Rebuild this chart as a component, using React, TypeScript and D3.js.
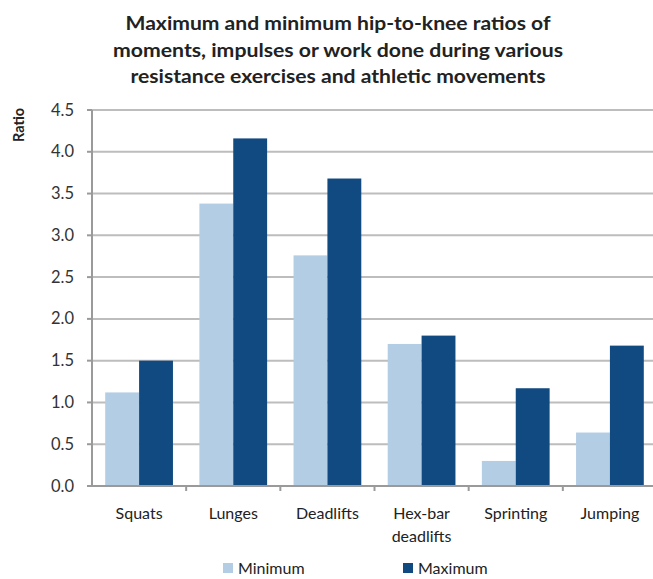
import React from "react";
import * as d3 from "d3";

// Exercise categories (second line of a label after "\n")
const categories = ["Squats", "Lunges", "Deadlifts", "Hex-bar\ndeadlifts", "Sprinting", "Jumping"];
const minimumValues = [1.12, 3.38, 2.76, 1.7, 0.3, 0.64];
const maximumValues = [1.5, 4.16, 3.68, 1.8, 1.17, 1.68];
const seriesNames = ["Minimum", "Maximum"];
const yTicks = [0, 0.5, 1, 1.5, 2, 2.5, 3, 3.5, 4, 4.5];
const titleLines = [
  "Maximum and minimum hip-to-knee ratios of",
  "moments, impulses or work done during various",
  "resistance exercises and athletic movements",
];
const titleWidths = [425, 450, 415];

const W = 653;
const H = 579;
const FONT = "Lato, 'Open Sans', sans-serif";
const COLORS = ["#b3cde5", "#114a80"];

export default function App() {
  const left = 92;
  const right = 657;
  const top = 110;
  const bottom = 486;

  const x = d3.scaleBand<string>().domain(categories).range([left, right]).paddingInner(0).paddingOuter(0);
  const y = d3.scaleLinear().domain([0, 4.5]).range([bottom, top]);
  const inner = d3.scaleBand<string>().domain(seriesNames).range([0, x.bandwidth()]).paddingOuter(0.39).paddingInner(0);

  const series = [minimumValues, maximumValues];

  return (
    <svg
      width={W}
      height={H}
      style={{ position: "absolute", left: 0, top: 0, background: "#fff" }}
      fontFamily={FONT}
    >
      <rect width={W} height={H} fill="#fff" />
      {/* Title */}
      {titleLines.map((t, i) => (
        <text
          key={i}
          x={338}
          y={30 + i * 26.5}
          textAnchor="middle"
          fontSize={19}
          fontWeight={700}
          fill="#222"
          textLength={titleWidths[i]}
          lengthAdjust="spacingAndGlyphs"
        >
          {t}
        </text>
      ))}

      {/* Y axis title */}
      <text
        transform={`translate(24,125) rotate(-90)`}
        textAnchor="middle"
        fontSize={14.5}
        fontWeight={700}
        fill="#222"
      >
        Ratio
      </text>

      {/* Gridlines and y ticks */}
      {yTicks.map((t) => (
        <g key={t}>
          <line x1={left} x2={W} y1={y(t)} y2={y(t)} stroke="#bdbdbd" strokeWidth={2} />
          <line x1={left - 5} x2={left} y1={y(t)} y2={y(t)} stroke="#9a9a9a" strokeWidth={2} />
          <text x={74} y={y(t) + 5.5} textAnchor="end" fontSize={16.5} fill="#333">
            {d3.format(".1f")(t)}
          </text>
        </g>
      ))}

      {/* Bars */}
      {categories.map((c, i) => (
        <g key={c}>
          {series.map((vals, s) => (
            <rect
              key={s}
              x={(x(c) as number) + (inner(seriesNames[s]) as number)}
              y={y(vals[i])}
              width={inner.bandwidth()}
              height={bottom - y(vals[i])}
              fill={COLORS[s]}
            />
          ))}
        </g>
      ))}

      {/* Axes lines */}
      <line x1={left} x2={left} y1={top} y2={bottom} stroke="#9a9a9a" strokeWidth={2} />
      <line x1={left} x2={W} y1={bottom} y2={bottom} stroke="#9a9a9a" strokeWidth={2} />
      {categories.map((c, i) => (
        <line
          key={"t" + i}
          x1={(x(c) as number) + x.bandwidth()}
          x2={(x(c) as number) + x.bandwidth()}
          y1={bottom}
          y2={bottom + 5}
          stroke="#9a9a9a"
          strokeWidth={2}
        />
      ))}

      {/* Category labels */}
      {categories.map((c) => {
        const cx = (x(c) as number) + x.bandwidth() / 2;
        return (
          <text key={"l" + c} textAnchor="middle" fontSize={16} fill="#222">
            {c.split("\n").map((part, j) => (
              <tspan key={j} x={cx} y={519 + j * 23}>
                {part}
              </tspan>
            ))}
          </text>
        );
      })}

      {/* Legend */}
      {seriesNames.map((n, s) => {
        const lx = s === 0 ? 223 : 403;
        return (
          <g key={n}>
            <rect x={lx} y={563} width={10} height={10} fill={COLORS[s]} />
            <text x={lx + 15} y={574} fontSize={16} fill="#222">
              {n}
            </text>
          </g>
        );
      })}
    </svg>
  );
}
